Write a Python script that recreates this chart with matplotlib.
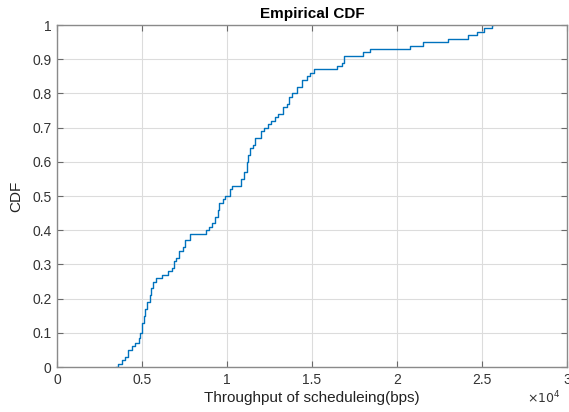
import matplotlib
matplotlib.use('Agg')
import matplotlib.pyplot as plt
import numpy as np

# step knots of the empirical CDF: throughput (bps) and CDF level after the jump
throughput = [3450, 3600, 3800, 4000, 4200, 4400, 4600, 4800, 4900, 5000,
              5100, 5200, 5300, 5450, 5550, 5650, 5800, 6150, 6500, 6750,
              6900, 7000, 7200, 7400, 7550, 7800, 8750, 8950, 9100, 9300,
              9450, 9550, 9750, 9900, 10200, 10300, 10800, 11000, 11150, 11250,
              11350, 11500, 11650, 12000, 12200, 12400, 12600, 12800, 13000, 13300,
              13500, 13650, 13800, 14100, 14400, 14700, 14900, 15100, 16450, 16750,
              16900, 18000, 18400, 20750, 21500, 23000, 24200, 24700, 25100, 25300,
              25600, 25650]
cdf = [0.00, 0.01, 0.02, 0.03, 0.05, 0.06, 0.07, 0.085, 0.10, 0.13,
       0.15, 0.17, 0.19, 0.21, 0.23, 0.25, 0.26, 0.27, 0.28, 0.29,
       0.31, 0.32, 0.34, 0.35, 0.37, 0.39, 0.40, 0.41, 0.42, 0.44,
       0.46, 0.48, 0.49, 0.50, 0.52, 0.53, 0.55, 0.57, 0.60, 0.62,
       0.64, 0.65, 0.67, 0.69, 0.70, 0.71, 0.72, 0.73, 0.74, 0.76,
       0.77, 0.79, 0.80, 0.82, 0.84, 0.85, 0.86, 0.87, 0.88, 0.89,
       0.91, 0.92, 0.93, 0.94, 0.95, 0.96, 0.97, 0.98, 0.99, 0.99,
       1.00, 1.00]

xticks = [0, 0.5, 1, 1.5, 2, 2.5, 3]
yticks = np.round(np.arange(0, 1.01, 0.1), 1)

plt.rcParams['font.family'] = ['Liberation Sans', 'DejaVu Sans']

fig = plt.figure(figsize=(5.69, 4.12), dpi=100)
ax = fig.add_axes([0.1002, 0.1092, 0.8963, 0.8301])

x = np.array(throughput) / 1e4
ax.step(x, cdf, where='post', color='#0072BD', lw=1.0)

ax.set_xlim(0, 3)
ax.set_ylim(0, 1)
ax.set_xticks(xticks)
ax.set_xticklabels(['0', '0.5', '1', '1.5', '2', '2.5', '3'])
ax.set_yticks(yticks)
ax.set_yticklabels(['0'] + [f'{v:g}' for v in yticks[1:-1]] + ['1'])

ax.grid(True, color='#dcdcdc', lw=0.8)
ax.set_axisbelow(True)
for s in ax.spines.values():
    s.set_color('#8a8a8a')
    s.set_linewidth(1.0)
ax.tick_params(direction='in', length=4, width=0.8, color='#6a6a6a',
               labelsize=10, labelcolor='#333333', top=True, right=True, pad=4)

ax.set_title('Empirical CDF', fontsize=11, fontweight='bold', pad=5)
ax.set_xlabel('Throughput of scheduleing(bps)', fontsize=11, color='#222222', labelpad=3)
ax.set_ylabel('CDF', fontsize=11, color='#222222', labelpad=6)

fig.text(0.955, 0.022, r'$\times10^4$', fontsize=9, color='#333333', ha='center')

fig.savefig('out.png', dpi=100)
